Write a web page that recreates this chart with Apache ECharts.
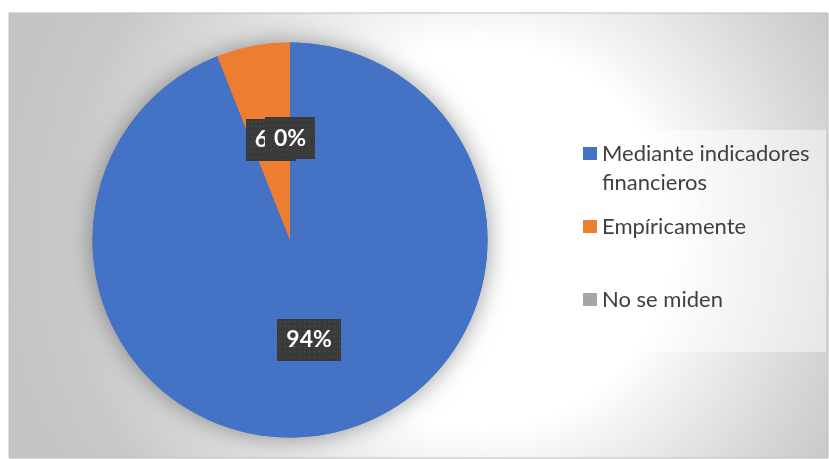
<!DOCTYPE html>
<html>
<head>
<meta charset="utf-8">
<script src="https://cdn.jsdelivr.net/npm/echarts@6/dist/echarts.min.js"></script>
<style>
  html, body { margin: 0; padding: 0; background: #ffffff; }
  #chart { width: 829px; height: 459px; }
</style>
</head>
<body>
<div id="chart"></div>
<script>
// Survey answers and their shares (percent)
const categories = ['Mediante indicadores financieros', 'Empíricamente', 'No se miden'];
const shares = [94, 6, 0];
// Legend captions; the first one wraps onto two lines (leading break keeps line one beside the swatch)
const legendLabels = ['\nMediante indicadores\nfinancieros', 'Empíricamente', 'No se miden'];
const sliceColors = ['#4472C4', '#ED7D31', '#A5A5A5'];

// Dark dotted fill used behind the data labels
function dottedTile(w, h) {
  const c = document.createElement('canvas');
  c.width = w; c.height = h;
  const g = c.getContext('2d');
  g.fillStyle = '#3a3a3a';
  g.fillRect(0, 0, w, h);
  g.fillStyle = '#4f4f4f';
  for (let y = 2; y < h; y += 5) {
    for (let x = 2; x < w; x += 5) {
      g.fillRect(x, y, 1.4, 1.4);
    }
  }
  return c;
}
const labelTile = dottedTile(64, 42);

const chart = echarts.init(document.getElementById('chart'), null, { renderer: 'canvas' });

const pieData = categories.map((name, i) => ({
  name: name,
  value: shares[i],
  itemStyle: { color: sliceColors[i] }
}));

function legendFor(i, top) {
  return {
    data: [categories[i]],
    left: 583,
    top: top,
    orient: 'vertical',
    padding: 0,
    itemWidth: 14,
    itemHeight: 13,
    itemGap: 0,
    icon: 'rect',
    selectedMode: false,
    formatter: () => legendLabels[i],
    textStyle: {
      fontFamily: 'Lato',
      fontSize: 22,
      color: '#404040',
      lineHeight: 29
    }
  };
}

const option = {
  animation: false,
  graphic: [
    {
      type: 'rect',
      z: 0,
      silent: true,
      shape: { x: 9, y: 13, width: 819, height: 445 },
      style: {
        fill: {
          type: 'radial',
          x: 480, y: 236, r: 480,
          global: true,
          colorStops: [
            { offset: 0, color: '#ffffff' },
            { offset: 0.4, color: '#ffffff' },
            { offset: 0.47, color: '#f5f5f5' },
            { offset: 0.73, color: '#d6d6d6' },
            { offset: 0.86, color: '#c9c9c9' },
            { offset: 1, color: '#c4c4c4' }
          ]
        },
        stroke: '#bdbdbd',
        lineWidth: 1
      }
    },
    {
      type: 'rect',
      z: 1,
      silent: true,
      shape: { x: 571, y: 130, width: 255, height: 222 },
      style: { fill: 'rgba(255,255,255,0.45)' }
    }
  ],
  legend: [
    legendFor(0, 110),
    legendFor(1, 212),
    legendFor(2, 285)
  ],
  series: [
    {
      // soft glow under the pie
      type: 'pie',
      silent: true,
      z: 1,
      center: [290, 240],
      radius: 197.5,
      startAngle: 90,
      clockwise: true,
      legendHoverLink: false,
      label: { show: false },
      labelLine: { show: false },
      itemStyle: {
        shadowBlur: 24,
        shadowColor: 'rgba(0,0,0,0.4)'
      },
      data: pieData
    },
    {
      type: 'pie',
      z: 2,
      center: [290, 240],
      radius: 197.5,
      startAngle: 90,
      clockwise: true,
      minAngle: 0.001,
      minShowLabelAngle: -1,
      avoidLabelOverlap: false,
      labelLayout: { hideOverlap: false },
      data: pieData,
      emphasis: { disabled: true },
      labelLine: { show: false },
      label: {
        show: true,
        position: 'inside',
        formatter: '{c}%',
        fontFamily: 'Lato',
        fontWeight: 'bold',
        fontSize: 23,
        lineHeight: 24,
        color: '#ffffff',
        padding: [9, 9],
        backgroundColor: { image: labelTile },
        shadowColor: 'rgba(0,0,0,0.45)',
        shadowBlur: 6,
        shadowOffsetX: 3,
        shadowOffsetY: 3
      }
    }
  ]
};

chart.setOption(option);
</script>
</body>
</html>
